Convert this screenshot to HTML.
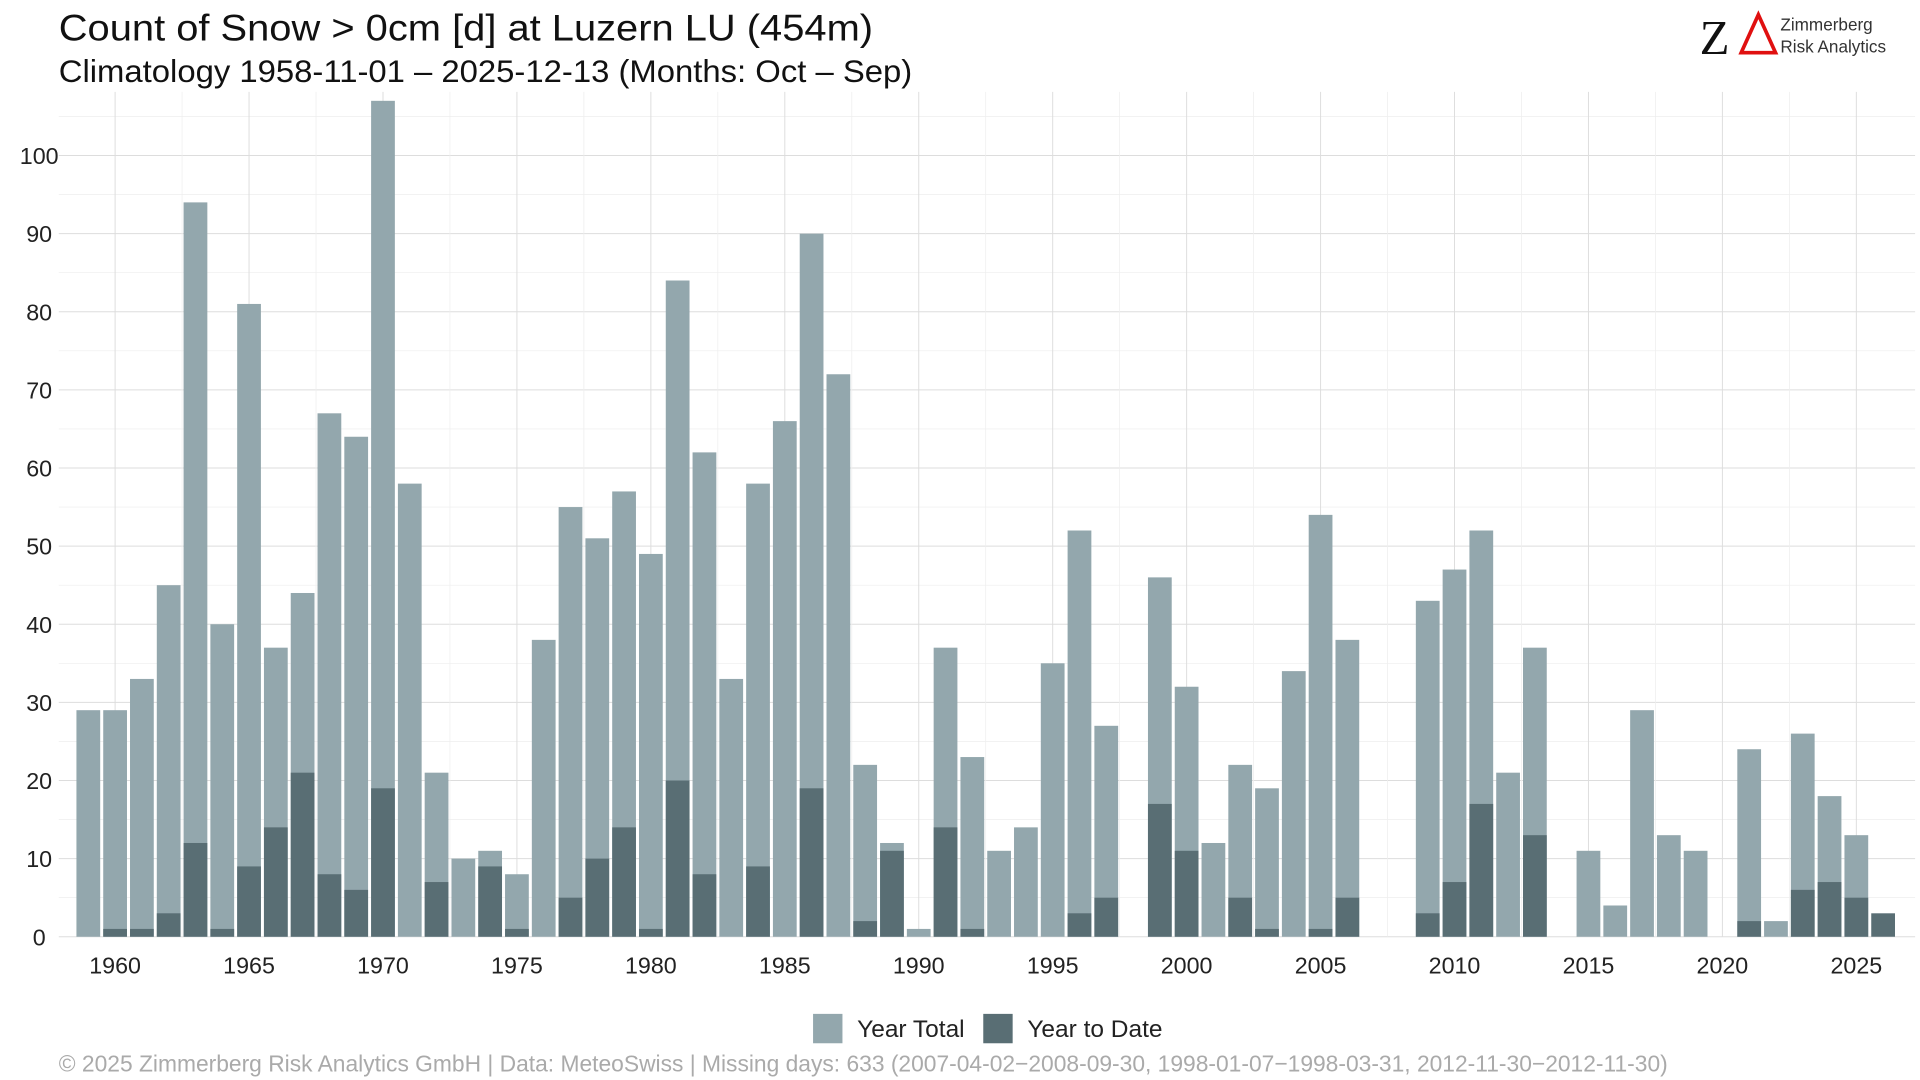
<!DOCTYPE html>
<html><head><meta charset="utf-8"><style>
html,body{margin:0;padding:0;background:#fff;}
svg{display:block;font-family:"Liberation Sans",sans-serif;}
</style></head><body>
<svg id="c" width="1920" height="1080" viewBox="0 0 1568 882" xmlns="http://www.w3.org/2000/svg">
<rect width="1568" height="882" fill="#fff"/>
<text x="48" y="33" font-size="30" fill="#111" textLength="665" lengthAdjust="spacingAndGlyphs">Count of Snow &gt; 0cm [d] at Luzern  LU (454m)</text>
<text x="48" y="67" font-size="26" fill="#111" textLength="697" lengthAdjust="spacingAndGlyphs">Climatology 1958-11-01 – 2025-12-13 (Months: Oct – Sep)</text>
<text x="1388" y="44" font-size="40" fill="#111" font-family="Liberation Serif,serif">Z</text>
<path d="M1422 43 L1436 12 L1450 43 Z" fill="none" stroke="#e01010" stroke-width="3"/>
<text x="1454" y="25" font-size="14" fill="#333">Zimmerberg</text>
<text x="1454" y="43" font-size="14" fill="#333">Risk Analytics</text>
<g id="g"></g>
<rect x="664" y="828" width="24" height="24" fill="#93a7ad"/>
<text x="700" y="847" font-size="20" fill="#222">Year Total</text>
<rect x="803" y="828" width="24" height="24" fill="#596e74"/>
<text x="839" y="847" font-size="20" fill="#222">Year to Date</text>
<text x="48" y="875" font-size="19" fill="#aaa" textLength="1314" lengthAdjust="spacingAndGlyphs">©  2025 Zimmerberg Risk Analytics GmbH | Data: MeteoSwiss | Missing days: 633 (2007-04-02−2008-09-30, 1998-01-07−1998-03-31, 2012-11-30−2012-11-30)</text>
</svg>
<script>
var d={1959:[29,0],1960:[29,1],1961:[33,1],1962:[45,3],1963:[94,12],1964:[40,1],1965:[81,9],1966:[37,14],1967:[44,21],1968:[67,8],1969:[64,6],1970:[107,19],1971:[58,0],1972:[21,7],1973:[10,0],1974:[11,9],1975:[8,1],1976:[38,0],1977:[55,5],1978:[51,10],1979:[57,14],1980:[49,1],1981:[84,20],1982:[62,8],1983:[33,0],1984:[58,9],1985:[66,0],1986:[90,19],1987:[72,0],1988:[22,2],1989:[12,11],1990:[1,0],1991:[37,14],1992:[23,1],1993:[11,0],1994:[14,0],1995:[35,0],1996:[52,3],1997:[27,5],1999:[46,17],2000:[32,11],2001:[12,0],2002:[22,5],2003:[19,1],2004:[34,0],2005:[54,1],2006:[38,5],2009:[43,3],2010:[47,7],2011:[52,17],2012:[21,0],2013:[37,13],2015:[11,0],2016:[4,0],2017:[29,0],2018:[13,0],2019:[11,0],2021:[24,2],2022:[2,0],2023:[26,6],2024:[18,7],2025:[13,5],2026:[0,3]};
var X=function(y){return 94+(y-1960)*21.877;},Y=function(v){return 765-v*6.38;};
var s='';
for(var v=0;v<=100;v+=10){s+='<line x1="48" x2="1564" y1="'+Y(v)+'" y2="'+Y(v)+'" stroke="#ddd" stroke-width="0.8"/>';s+='<text x="32" y="'+(Y(v)+7)+'" font-size="19" fill="#222" text-anchor="middle">'+v+'</text>';}
for(var v=5;v<=105;v+=10)s+='<line x1="48" x2="1564" y1="'+Y(v)+'" y2="'+Y(v)+'" stroke="#eee" stroke-width="0.6"/>';
for(var y=1960;y<=2025;y+=5){s+='<line x1="'+X(y)+'" x2="'+X(y)+'" y1="75" y2="765" stroke="#ddd" stroke-width="0.8"/>';s+='<text x="'+X(y)+'" y="795" font-size="19" fill="#222" text-anchor="middle">'+y+'</text>';}
for(var y=1962.5;y<=2027;y+=5)s+='<line x1="'+X(y)+'" x2="'+X(y)+'" y1="75" y2="765" stroke="#eee" stroke-width="0.6"/>';
for(var k in d){var x=X(+k)-9.7,t=d[k][0],a=d[k][1];
if(t>0)s+='<rect x="'+x+'" y="'+Y(t)+'" width="19.4" height="'+(t*6.38)+'" fill="#93a7ad"/>';
if(a>0)s+='<rect x="'+x+'" y="'+Y(a)+'" width="19.4" height="'+(a*6.38)+'" fill="#596e74"/>';}
document.getElementById('g').innerHTML=s;
</script>
</body></html>
